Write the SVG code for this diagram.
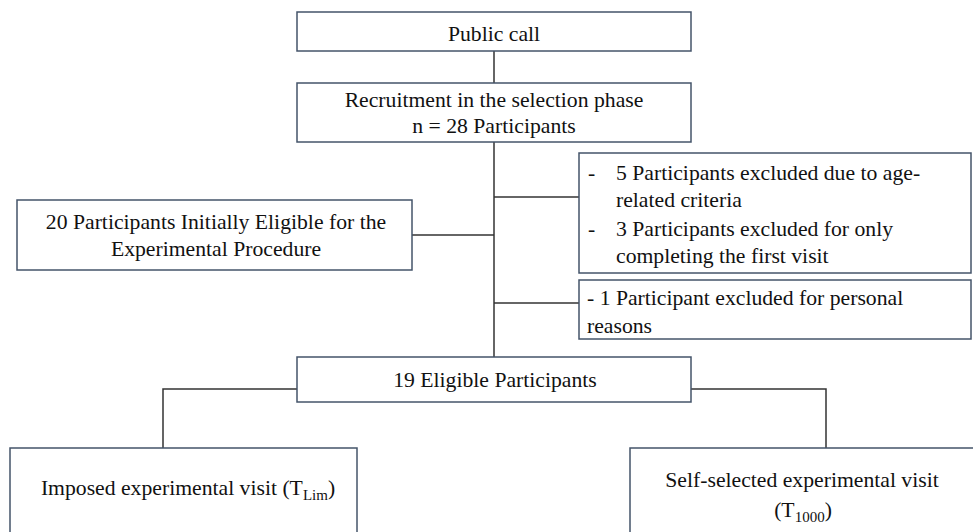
<svg xmlns="http://www.w3.org/2000/svg" width="973" height="532" viewBox="0 0 973 532">
<style>
.box{fill:#fff;stroke:#44546a;stroke-width:1.5}
.ln{stroke:#333;stroke-width:1.5;fill:none}
text{font-family:"Liberation Serif","Times New Roman",serif;font-size:21.7px;fill:#111}
.c{text-anchor:middle}
.sub{font-size:15px}
</style>
<rect width="973" height="532" fill="#fff"/>
<g id="connectors">
<path class="ln" d="M494 51V83"/>
<path class="ln" d="M494 142V357"/>
<path class="ln" d="M494 197H579"/>
<path class="ln" d="M494 303H579"/>
<path class="ln" d="M412 235H494"/>
<path class="ln" d="M297 389H163V448"/>
<path class="ln" d="M691 389H826V448"/>
</g>
<g id="public-call">
<rect class="box" x="297" y="12" width="394" height="39"/>
<text class="c" x="494" y="41">Public call</text>
</g>
<g id="recruitment">
<rect class="box" x="297" y="83" width="394" height="59"/>
<text class="c" x="494" y="106.5">Recruitment in the selection phase</text>
<text class="c" x="494" y="133">n = 28 Participants</text>
</g>
<g id="excluded-1">
<rect class="box" x="579" y="153" width="392" height="120"/>
<text x="588" y="180">-</text><text x="616" y="180">5 Participants excluded due to age-</text>
<text x="616" y="207">related criteria</text>
<text x="588" y="235.5">-</text><text x="616" y="235.5">3 Participants excluded for only</text>
<text x="616" y="263">completing the first visit</text>
</g>
<g id="excluded-2">
<rect class="box" x="579" y="280" width="392" height="59"/>
<text x="587" y="305">- 1 Participant excluded for personal</text>
<text x="587" y="333">reasons</text>
</g>
<g id="initially-eligible">
<rect class="box" x="17" y="200" width="395" height="70"/>
<text class="c" x="216" y="228.5">20 Participants Initially Eligible for the</text>
<text class="c" x="216" y="256">Experimental Procedure</text>
</g>
<g id="eligible">
<rect class="box" x="297" y="357" width="394" height="45"/>
<text class="c" x="495" y="386.5">19 Eligible Participants</text>
</g>
<g id="imposed">
<rect class="box" x="10" y="448" width="347" height="100"/>
<text class="c" x="188" y="495">Imposed experimental visit (T<tspan class="sub" dy="5">Lim</tspan><tspan dy="-5">)</tspan></text>
</g>
<g id="self-selected">
<rect class="box" x="630" y="448" width="350" height="100"/>
<text class="c" x="802" y="486.5">Self-selected experimental visit</text>
<text class="c" x="803" y="516.5">(T<tspan class="sub" dy="5">1000</tspan><tspan dy="-5">)</tspan></text>
</g>
</svg>
